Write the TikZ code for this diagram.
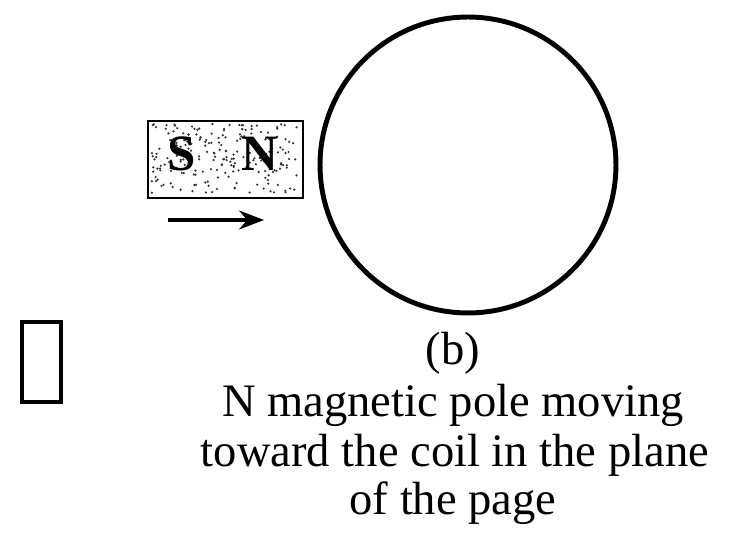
\documentclass[tikz,border=0pt]{standalone}
\usepackage{fontspec}
\setmainfont{Liberation Serif}
\usetikzlibrary{arrows.meta, positioning}

\begin{document}
\begin{tikzpicture}[
  x=0.02cm, y=-0.02cm,
  pole/.style={font=\fontsize{29}{29}\selectfont\bfseries, inner sep=0pt},
  caption/.style={font=\fontsize{26.5}{23}\selectfont, inner sep=0pt, anchor=base},
  arr/.style={-{Stealth[length=5mm, width=3.8mm]}, line width=2pt}
]
\useasboundingbox (0,0) rectangle (748,533);

% bar magnet, speckled
\node[draw, line width=1.3pt, inner sep=0pt, minimum width=3.1cm, minimum height=1.54cm,
      anchor=north west] (magnet) at (147,120) {};
\pgfmathsetseed{11}
\foreach \i in {1,...,220}
  \fill[black!80] (151+rnd*147, 124+rnd*69) circle (0.7pt);
\node[pole] (S) at (182,154) {S};
\node[pole] (N) at (260,154) {N};

% direction of motion
\coordinate (push tail) at (168,220);
\coordinate (push head) at (264,220);
\draw[arr] (push tail) -- (push head);

% the coil
\node[draw, circle, line width=2.8pt, inner sep=0pt, minimum size=5.92cm] (coil) at (468,165) {};

% missing glyph box
\node[draw, line width=2.3pt, inner sep=0pt, minimum width=0.78cm, minimum height=1.6cm] (glyph) at (41.5,362) {};

% caption
\node[caption] (tag) at (453,365) {(b)};
\node[caption] (line1) at (453,417) {N magnetic pole moving};
\node[caption] (line2) at (455,467) {toward the coil in the plane};
\node[caption] (line3) at (453,515) {of the page};
\end{tikzpicture}
\end{document}
